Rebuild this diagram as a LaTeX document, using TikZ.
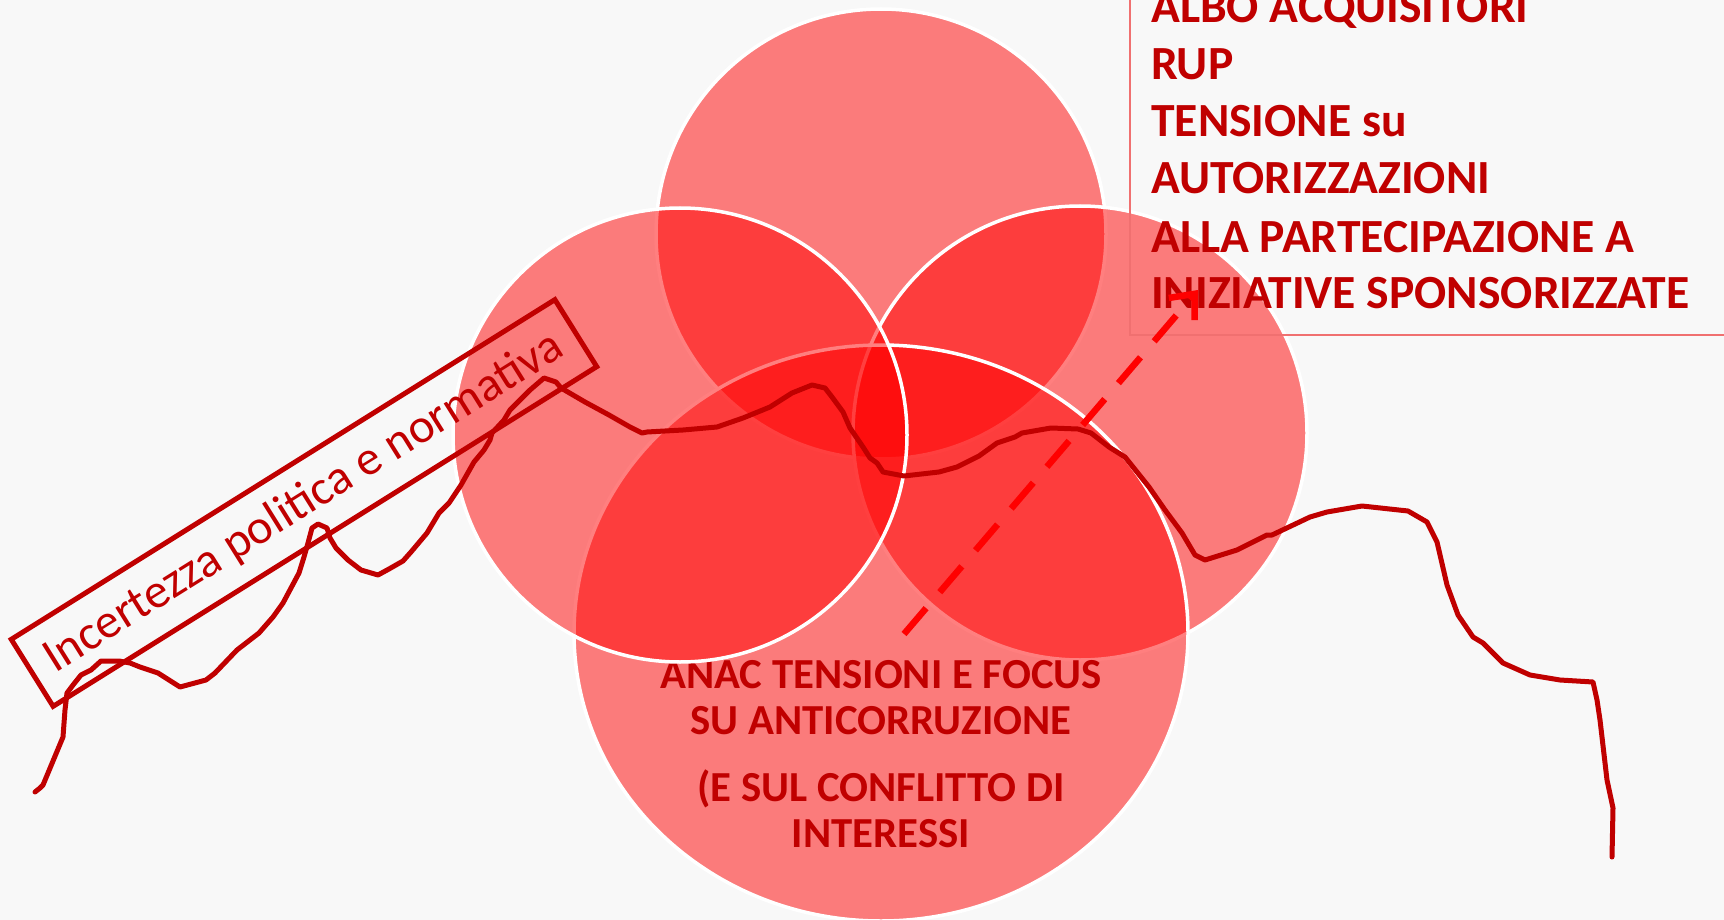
\documentclass[tikz,border=0pt]{standalone}
\usepackage{fontspec}
\setmainfont{Carlito}
\usetikzlibrary{arrows.meta}
\definecolor{darkred}{HTML}{C00000}
\definecolor{boxred}{HTML}{F07070}
\definecolor{bg}{HTML}{F8F8F8}
\definecolor{bgm}{HTML}{F3F3F3}
\definecolor{bgb}{HTML}{E8E8E8}
\definecolor{bgc}{HTML}{D5D5D5}
\pgfdeclareradialshading{vign}{\pgfpoint{0bp}{0bp}}{color(0bp)=(bg); color(30bp)=(bg); color(35bp)=(bgm); color(41bp)=(bgb); color(48bp)=(bgc); color(50bp)=(bgc)}
\tikzset{
  venn/.style={fill=red, fill opacity=0.5, draw=white, draw opacity=1, line width=3.5},
  btxt/.style={anchor=base, inner sep=0, text=darkred, font=\fontsize{42.8}{46}\selectfont\bfseries},
  rtxt/.style={anchor=base west, inner sep=0, text=darkred, font=\fontsize{47.6}{57}\selectfont\bfseries},
  wave/.style={draw=darkred, line width=5, line join=round, line cap=round},
  arrowline/.style={draw=red, line width=6.5, dash pattern=on 34pt off 21pt, -{Straight Barb[length=20pt,width=34pt]}},
  incbox/.style={draw=darkred, line width=5, minimum width=641, minimum height=79, rotate=32, text=darkred, inner sep=0, font=\fontsize{48.6}{56}\selectfont}
}
\begin{document}
\begin{tikzpicture}[x=1pt,y=-1pt]
\useasboundingbox (0,0) rectangle (1724,920);
\clip (0,0) rectangle (1724,920);
\shade[shading=vign] (-438,-240) rectangle (2162,1160);

% Venn circles
\path[venn] (881,234) circle[radius=225];
\path[venn] (1080,433) circle[radius=227];
\path[venn] (881,633) ellipse[x radius=307, y radius=288];
\node[btxt] (b1) at (881,688) {ANAC TENSIONI E FOCUS};
\node[btxt] (b2) at (881,734) {SU ANTICORRUZIONE};
\node[btxt] (b3) at (881,801) {(E SUL CONFLITTO DI};
\node[btxt] (b4) at (881,847) {INTERESSI};
\path[venn] (680,435) circle[radius=227];

% top-right text box
\draw[boxred, line width=2] (1130,-10) rectangle (1740,335);
\node[rtxt] (r1) at (1151,23) {ALBO ACQUISITORI};
\node[rtxt] (r2) at (1151,80) {RUP};
\node[rtxt] (r3) at (1151,137) {TENSIONE su};
\node[rtxt] (r4) at (1151,194) {AUTORIZZAZIONI};
\node[rtxt] (r5) at (1151,252) {ALLA PARTECIPAZIONE A};
\node[rtxt] (r6) at (1151,308) {INIZIATIVE SPONSORIZZATE};

% dashed arrow
\coordinate (as) at (904,634);
\coordinate (ae) at (1198,290);
\draw[arrowline] (as) -- (ae);

% wavy line
\draw[wave] plot coordinates {(35,792) (40,788) (43,785) (63,737) (65,710) (67,693) (73,685) (81,675) (91,670) (101,661) (119,661) (130,663) (140,667) (158,673) (180,687) (206,680) (215,673) (237,650) (259,633) (273,617) (283,603) (291,588) (299,573) (304,557) (308,543) (312,528) (318,524) (327,528) (330,538) (336,548) (348,560) (361,570) (378,575) (389,569) (403,561) (411,552) (427,533) (439,513) (449,503) (461,485) (474,462) (484,450) (490,440) (492,433) (504,420) (510,410) (530,390) (544,378) (556,382) (561,388) (585,402) (609,415) (630,427) (642,433) (647,432) (683,430) (717,427) (743,418) (770,407) (792,393) (812,385) (825,388) (832,397) (843,412) (850,428) (863,447) (870,458) (877,463) (883,472) (904,476) (939,472) (957,467) (979,456) (997,443) (1015,437) (1022,433) (1051,428) (1078,429) (1091,433) (1109,447) (1125,457) (1149,487) (1165,510) (1182,533) (1195,555) (1205,560) (1237,550) (1267,535) (1272,535) (1310,517) (1327,512) (1362,506) (1408,511) (1427,522) (1437,542) (1447,585) (1458,615) (1473,637) (1483,643) (1503,663) (1530,675) (1560,680) (1593,682) (1597,700) (1600,720) (1607,780) (1613,808) (1612,857)};

% rotated label box
\node[incbox] (inc) at (304,503) {Incertezza politica e normativa};
\end{tikzpicture}
\end{document}
